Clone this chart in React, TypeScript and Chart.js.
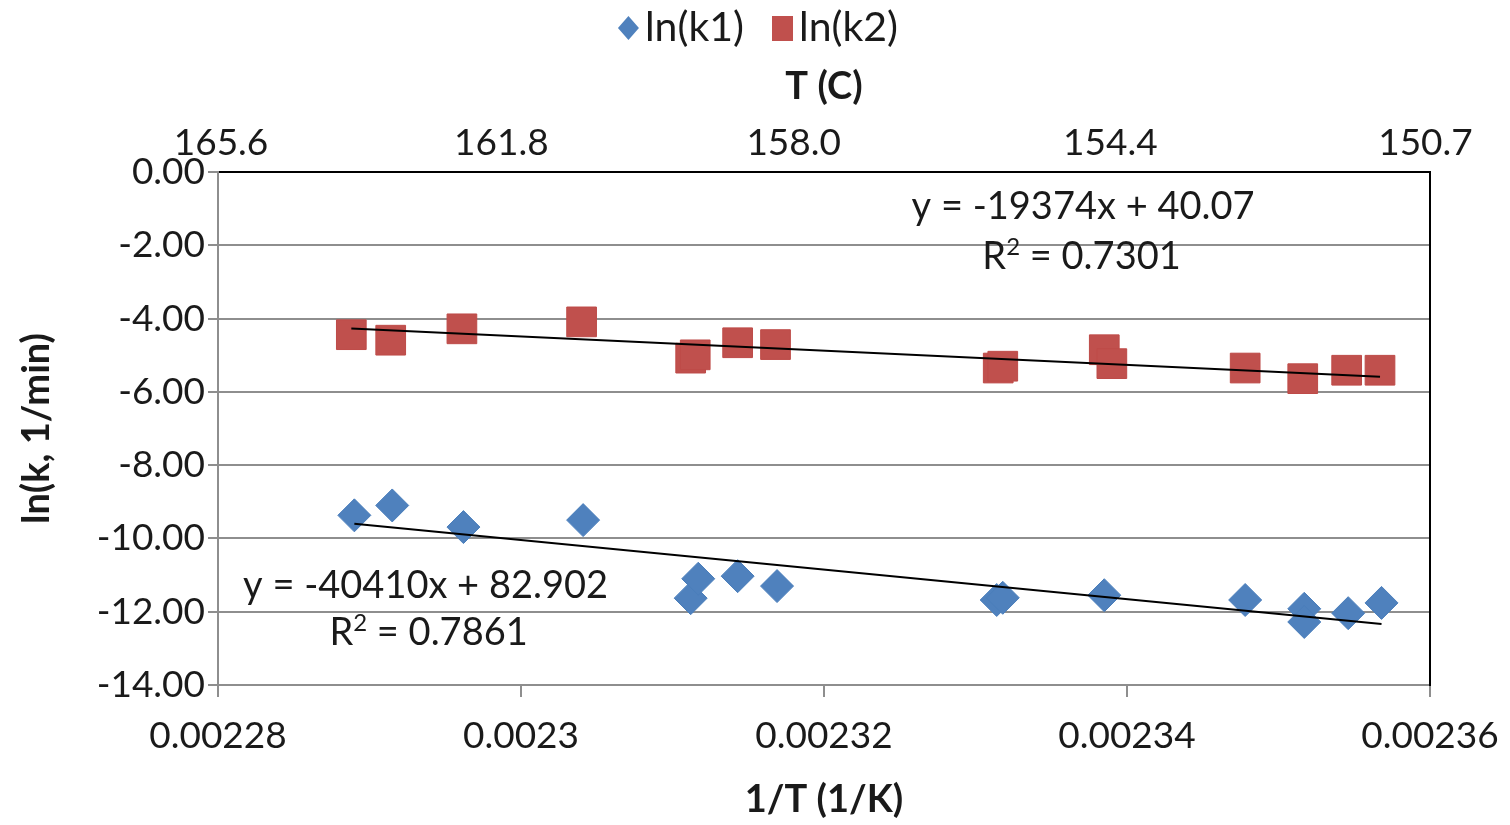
import React, { useEffect, useRef } from 'react';
import { Chart, registerables } from 'chart.js';

Chart.register(...registerables);

// Inverse temperature (1/K) and ln of the first rate constant
const invT1 = [
  0.002289, 0.0022915, 0.0022962, 0.0023041, 0.0023112, 0.0023117, 0.0023143, 0.0023169,
  0.0023314, 0.0023318, 0.0023385, 0.0023478, 0.0023517, 0.0023517, 0.0023546, 0.0023568,
];
const lnK1 = [
  -9.37, -9.1, -9.69, -9.5, -11.63, -11.1, -11.03, -11.3,
  -11.68, -11.62, -11.55, -11.68, -11.92, -12.28, -12.04, -11.76,
];

// Inverse temperature (1/K) and ln of the second rate constant
const invT2 = [
  0.0022888, 0.0022914, 0.0022961, 0.002304, 0.0023112, 0.0023115, 0.0023143, 0.0023168,
  0.0023315, 0.0023318, 0.0023385, 0.002339, 0.0023478, 0.0023516, 0.0023545, 0.0023567,
];
const lnK2 = [
  -4.44, -4.59, -4.28, -4.09, -5.08, -4.99, -4.66, -4.71,
  -5.35, -5.3, -4.85, -5.23, -5.35, -5.64, -5.41, -5.41,
];

// Linear least-squares fits (Arrhenius)
const fitK1 = { slope: -40410, intercept: 82.902, r2: '0.7861' };
const fitK2 = { slope: -19374, intercept: 40.07, r2: '0.7301' };

const seriesNames = ['ln(k1)', 'ln(k2)'];

// Bottom axis range / ticks
const xMin = 0.00228;
const xMax = 0.00236;
const xStep = 0.00002;

// Left axis range / ticks
const yMin = -14;
const yMax = 0;
const yStep = 2;

// Temperature (°C) labels of the upper axis and the 1/T value each sits at
const tempLabels = ['165.6', '161.8', '158.0', '154.4', '150.7'];
const tempLabelAt = [0.0022802, 0.0022987, 0.002318, 0.0023389, 0.0023597];

const FONT = 'Lato, "Open Sans", sans-serif';
const BLUE = '#4F81BD';
const RED = '#C0504D';
const TEXT = '#1a1a1a';
const GRID = '#8e8e8e';

const trendPoints = (fit: { slope: number; intercept: number }, xs: number[]) => {
  const lo = Math.min(...xs);
  const hi = Math.max(...xs);
  return [
    { x: lo, y: fit.slope * lo + fit.intercept },
    { x: hi, y: fit.slope * hi + fit.intercept },
  ];
};

const eqText = (fit: { slope: number; intercept: number }) =>
  `y = ${fit.slope}x + ${fit.intercept}`;

// Equation / R² annotations, anchored in data coordinates
const annotations = [
  { text: eqText(fitK2), r2: false, x: 0.0023371, y: -0.95 },
  { text: fitK2.r2, r2: true, x: 0.002337, y: -2.32 },
  { text: eqText(fitK1), r2: false, x: 0.0022937, y: -11.3 },
  { text: fitK1.r2, r2: true, x: 0.0022939, y: -12.58 },
];

const annotationPlugin = {
  id: 'fitAnnotations',
  afterDatasetsDraw(chart: any) {
    const { ctx, scales } = chart;
    ctx.save();
    ctx.fillStyle = TEXT;
    ctx.textBaseline = 'middle';
    const main = `38px ${FONT}`;
    const sup = `24px ${FONT}`;
    annotations.forEach((a) => {
      const cx = scales.x.getPixelForValue(a.x);
      const cy = scales.y.getPixelForValue(a.y);
      if (!a.r2) {
        ctx.font = main;
        ctx.textAlign = 'center';
        ctx.fillText(a.text, cx, cy);
        return;
      }
      // "R² = value" with a drawn superscript
      const rest = ` = ${a.text}`;
      ctx.font = main;
      const wR = ctx.measureText('R').width;
      const wRest = ctx.measureText(rest).width;
      ctx.font = sup;
      const w2 = ctx.measureText('2').width;
      const total = wR + w2 + wRest;
      let x = cx - total / 2;
      ctx.textAlign = 'left';
      ctx.font = main;
      ctx.fillText('R', x, cy);
      x += wR;
      ctx.font = sup;
      ctx.fillText('2', x, cy - 10);
      x += w2;
      ctx.font = main;
      ctx.fillText(rest, x, cy);
    });
    ctx.restore();
  },
};

const legendPlugin = {
  id: 'topLegend',
  afterDraw(chart: any) {
    const { ctx } = chart;
    const items = [
      { text: seriesNames[0], color: BLUE, diamond: true },
      { text: seriesNames[1], color: RED, diamond: false },
    ];
    ctx.save();
    ctx.font = `41px ${FONT}`;
    const mark = 21;
    const gap = 6;
    const between = 28;
    const widths = items.map((it) => ctx.measureText(it.text).width);
    const total =
      widths.reduce((a, b) => a + b, 0) + items.length * (mark + gap) + between * (items.length - 1);
    let x = chart.width / 2 + 3 - total / 2;
    const y = 28;
    items.forEach((it, i) => {
      ctx.fillStyle = it.color;
      ctx.beginPath();
      if (it.diamond) {
        ctx.moveTo(x + mark / 2, y - 12);
        ctx.lineTo(x + mark, y);
        ctx.lineTo(x + mark / 2, y + 12);
        ctx.lineTo(x, y);
        ctx.closePath();
      } else {
        ctx.rect(x, y - 12, mark, 25);
      }
      ctx.fill();
      ctx.fillStyle = TEXT;
      ctx.textAlign = 'left';
      ctx.textBaseline = 'middle';
      ctx.fillText(it.text, x + mark + gap, y);
      x += mark + gap + widths[i] + between;
    });
    ctx.restore();
  },
};

export default function App() {
  const canvasRef = useRef<HTMLCanvasElement | null>(null);

  useEffect(() => {
    if (!canvasRef.current) return;
    const tickFont = { family: FONT, size: 37 };
    const titleFont = { family: FONT, size: 38, weight: 'bold' as const };

    const chart = new Chart(canvasRef.current, {
      type: 'scatter',
      data: {
        datasets: [
          {
            label: seriesNames[0],
            data: invT1.map((x, i) => ({ x, y: lnK1[i] })),
            pointStyle: 'rectRot',
            pointRadius: 16.5,
            backgroundColor: BLUE,
            borderColor: '#4A7EBB',
            borderWidth: 1,
            order: 2,
          },
          {
            label: seriesNames[1],
            data: invT2.map((x, i) => ({ x, y: lnK2[i] })),
            pointStyle: 'rect',
            pointRadius: 21,
            backgroundColor: RED,
            borderColor: '#BE4B48',
            borderWidth: 1,
            order: 2,
          },
          {
            label: 'fit k1',
            data: trendPoints(fitK1, invT1),
            showLine: true,
            pointRadius: 0,
            borderColor: '#000',
            borderWidth: 2,
            order: 0,
          },
          {
            label: 'fit k2',
            data: trendPoints(fitK2, invT2),
            showLine: true,
            pointRadius: 0,
            borderColor: '#000',
            borderWidth: 2,
            order: 0,
          },
        ],
      },
      options: {
        responsive: false,
        animation: false,
        layout: { padding: { top: 50, left: 0, right: 0, bottom: 0 } },
        plugins: {
          legend: { display: false },
          tooltip: { enabled: false },
        },
        scales: {
          x: {
            type: 'linear',
            position: 'bottom',
            min: xMin,
            max: xMax,
            ticks: {
              stepSize: xStep,
              autoSkip: false,
              maxRotation: 0,
              padding: 17,
              color: TEXT,
              font: tickFont,
              callback: (v: any) => String(parseFloat(Number(v).toFixed(5))),
            },
            grid: {
              drawOnChartArea: false,
              drawTicks: true,
              tickLength: 12,
              color: GRID,
              lineWidth: 2,
            },
            border: { display: true, color: GRID, width: 2 },
            title: {
              display: true,
              text: '1/T (1/K)',
              color: TEXT,
              font: titleFont,
              padding: { top: 0, bottom: 2 },
            },
            afterFit: (s: any) => {
              s.height = 140;
              s.paddingLeft = 0;
              s.paddingRight = 0;
            },
          },
          x2: {
            type: 'linear',
            position: 'top',
            min: xMin,
            max: xMax,
            afterBuildTicks: (s: any) => {
              s.ticks = tempLabelAt.map((value) => ({ value }));
            },
            ticks: {
              autoSkip: false,
              maxRotation: 0,
              padding: 7,
              color: TEXT,
              font: tickFont,
              callback: (_v: any, i: number) => tempLabels[i],
            },
            grid: { display: false, drawOnChartArea: false, drawTicks: false },
            border: { display: true, color: '#000', width: 2 },
            title: {
              display: true,
              text: 'T (C)',
              color: TEXT,
              font: titleFont,
              padding: { top: 14, bottom: 0 },
            },
            afterFit: (s: any) => {
              s.height = 122;
              s.paddingLeft = 0;
              s.paddingRight = 0;
            },
          },
          y: {
            type: 'linear',
            position: 'left',
            min: yMin,
            max: yMax,
            ticks: {
              stepSize: yStep,
              padding: 3,
              color: TEXT,
              font: tickFont,
              callback: (v: any) => Number(v).toFixed(2),
            },
            grid: {
              drawOnChartArea: true,
              drawTicks: true,
              tickLength: 10,
              color: GRID,
              lineWidth: 2,
            },
            border: { display: true, color: GRID, width: 2 },
            title: {
              display: true,
              text: 'ln(k, 1/min)',
              color: TEXT,
              font: titleFont,
              padding: { top: 14, bottom: 0 },
            },
            afterFit: (s: any) => {
              s.width = 218;
              s.paddingTop = 0;
              s.paddingBottom = 0;
            },
          },
          y2: {
            type: 'linear',
            position: 'right',
            min: yMin,
            max: yMax,
            ticks: { display: false },
            grid: { display: false, drawOnChartArea: false, drawTicks: false },
            border: { display: true, color: '#000', width: 2 },
            afterFit: (s: any) => {
              s.width = 80;
              s.paddingTop = 0;
              s.paddingBottom = 0;
            },
          },
        },
      },
      plugins: [annotationPlugin, legendPlugin],
    } as any);

    return () => chart.destroy();
  }, []);

  return (
    <div
      style={{
        position: 'fixed',
        left: 0,
        top: 0,
        width: 1510,
        height: 825,
        background: '#fff',
      }}
    >
      <canvas ref={canvasRef} width={1510} height={825} style={{ display: 'block' }} />
    </div>
  );
}
